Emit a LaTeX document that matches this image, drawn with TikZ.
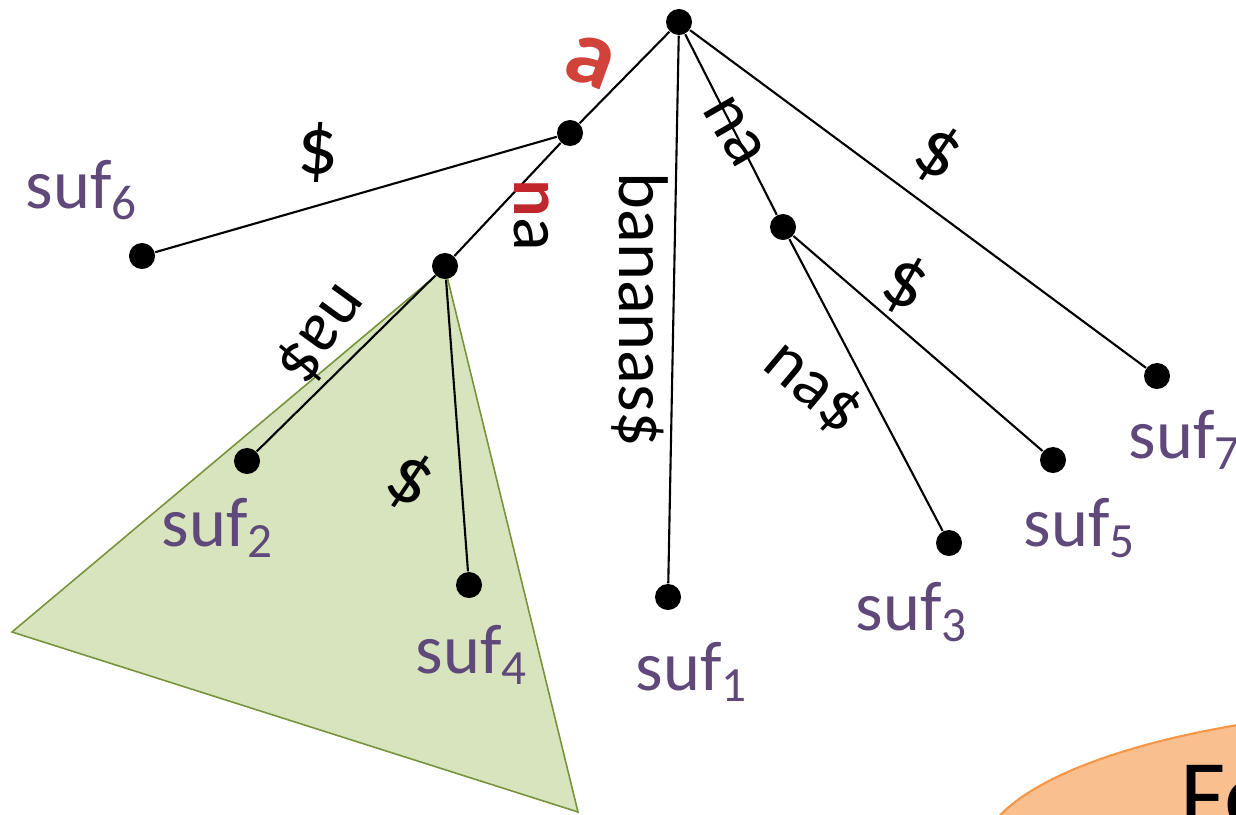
\documentclass[tikz,border=0pt]{standalone}
\usepackage{fontspec}
\setmainfont{Carlito}
\usepackage{tikz}

\definecolor{sufpurple}{RGB}{95,73,122}
\definecolor{lblred}{RGB}{208,66,58}
\definecolor{nred}{RGB}{192,38,42}
\definecolor{trifill}{RGB}{215,228,189}
\definecolor{triline}{RGB}{119,147,60}
\definecolor{ovalfill}{RGB}{250,191,143}
\definecolor{ovalline}{RGB}{247,150,70}

\begin{document}
\begin{tikzpicture}[x=0.01cm, y=-0.01cm,
  dot/.style={circle, fill=black, inner sep=0pt, minimum size=0.26cm},
  edge/.style={line width=0.6pt},
  lbl/.style={font=\fontsize{20}{24}\selectfont, inner sep=0pt},
  dollar/.style={lbl, font=\fontsize{23}{26}\selectfont},
  suf/.style={font=\fontsize{20}{24}\selectfont, text=sufpurple, inner sep=0pt}
]
\useasboundingbox (0,0) rectangle (1236,815);
\clip (0,0) rectangle (1236,815);

% orange blob, bottom right
\draw[draw=ovalline, fill=ovalfill, line width=0.6pt] (1480,858) ellipse [x radius=500, y radius=152];
\node[font=\fontsize{28}{30}\selectfont, anchor=base west, inner sep=0pt] (fo) at (1180,828) {Fo};

% subtree
\filldraw[fill=trifill, draw=triline, line width=0.45pt] (445,268) -- (12,632) -- (578,812) -- cycle;

% tree nodes
\node[dot] (root) at (679,22) {};
\node[dot] (nA) at (570,133) {};
\node[dot] (nAN) at (445,266) {};
\node[dot] (nNA) at (783,227) {};
\node[dot] (l1) at (668,597) {};
\node[dot] (l2) at (247,461) {};
\node[dot] (l3) at (949,543) {};
\node[dot] (l4) at (469,585) {};
\node[dot] (l5) at (1053,460) {};
\node[dot] (l6) at (142,256) {};
\node[dot] (l7) at (1157,376) {};

\draw[edge] (root) -- (nA);
\draw[edge] (root) -- (l1);
\draw[edge] (root) -- (nNA);
\draw[edge] (root) -- (l7);
\draw[edge] (nA) -- (l6);
\draw[edge] (nA) -- (nAN);
\draw[edge] (nAN) -- (l2);
\draw[edge] (nAN) -- (l4);
\draw[edge] (nNA) -- (l5);
\draw[edge] (nNA) -- (l3);

% edge labels
\node[lbl, font=\fontsize{27}{30}\selectfont\bfseries, text=lblred, rotate=-20] (ea) at (590,62) {a};
\node[dollar] (e6) at (318,152) {\$};
\node[lbl, rotate=-90] (ean) at (532,215) {\textcolor{nred}{\bfseries n}a};
\node[lbl, rotate=-90] (e1) at (640,310) {bananas\$};
\node[lbl, rotate=-60] (ena) at (734,132) {na};
\node[dollar, rotate=-30] (e7) at (938,155) {\$};
\node[dollar, rotate=-25] (e5) at (905,285) {\$};
\node[lbl, rotate=-40] (e3) at (813,388) {na\$};
\node[lbl, rotate=234] (e2) at (322,334) {na\$};
\node[dollar, rotate=-30] (e4) at (410,482) {\$};

% leaf labels
\node[suf] (s6) at (82,190) {suf\textsubscript{6}};
\node[suf] (s2) at (218,528) {suf\textsubscript{2}};
\node[suf] (s4) at (472,655) {suf\textsubscript{4}};
\node[suf] (s1) at (692,672) {suf\textsubscript{1}};
\node[suf] (s3) at (912,612) {suf\textsubscript{3}};
\node[suf] (s5) at (1080,528) {suf\textsubscript{5}};
\node[suf] (s7) at (1185,440) {suf\textsubscript{7}};
\end{tikzpicture}
\end{document}
